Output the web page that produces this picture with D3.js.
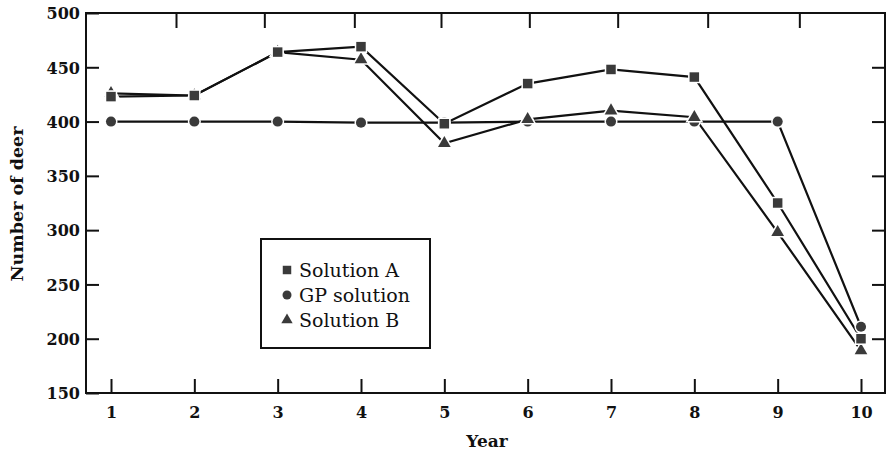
<!DOCTYPE html>
<html><head><meta charset="utf-8">
<script src="https://cdn.jsdelivr.net/npm/d3@7"></script>
<style>body{margin:0;background:#fff}svg{display:block}</style>
</head><body>
<svg id="c" width="887" height="452"></svg>
<script>
const years = [1,2,3,4,5,6,7,8,9,10];
const solutionA = [423,424,464,469,398,435,448,441,325,200];
const gpSolution = [400,400,400,399,399,400,400,400,400,211];
const solutionB = [426,424,464,457,380,402,410,404,298,189];
const yTicks = [150,200,250,300,350,400,450,500];
const topTicks = [1.78,2.84,3.92,4.96,6.02,7.08,8.16,9.26];
const seriesNames = ["Solution A","GP solution","Solution B"];

(function(){
const svg = d3.select("#c");
const L=86,R=885,T=13,B=393;
const x = d3.scaleLinear().domain([1,10]).range([111,861]);
const y = d3.scaleLinear().domain([150,500]).range([B,T]);
const ink="#111", mark="#3a3a3a", font="'DejaVu Serif', serif";

svg.append("rect").attr("x",L).attr("y",T).attr("width",R-L).attr("height",B-T)
  .attr("fill","none").attr("stroke",ink).attr("stroke-width",2);

const gBottom = svg.append("g").attr("transform",`translate(0,${B})`)
  .call(d3.axisBottom(x).tickValues(years).tickSize(-14).tickFormat(d3.format("d")));
const gLeft = svg.append("g").attr("transform",`translate(${L},0)`)
  .call(d3.axisLeft(y).tickValues(yTicks).tickSize(-13));
const gRight = svg.append("g").attr("transform",`translate(${R},0)`)
  .call(d3.axisRight(y).tickValues(yTicks.slice(1,-1)).tickSize(-13).tickFormat(""));
const gTop = svg.append("g").attr("transform",`translate(0,${T})`)
  .call(d3.axisTop(x).tickValues(topTicks).tickSize(-15).tickFormat(""));
[gBottom,gLeft,gRight,gTop].forEach(g=>{
  g.select(".domain").remove();
  g.selectAll(".tick line").attr("stroke",ink).attr("stroke-width",2);
  g.selectAll(".tick text").attr("fill",ink).attr("font-family",font)
    .attr("font-weight","bold").attr("font-size",16);
});
gLeft.selectAll(".tick text").attr("x",-6).attr("dy","0.36em");
gBottom.selectAll(".tick text").attr("y",25).attr("dy",0);

svg.append("text").attr("x",487).attr("y",447).attr("text-anchor","middle")
  .attr("font-family",font).attr("font-weight","bold").attr("font-size",17).attr("fill",ink).text("Year");
svg.append("text").attr("transform","translate(23,204) rotate(-90)").attr("text-anchor","middle")
  .attr("font-family",font).attr("font-weight","bold").attr("font-size",17.5).attr("fill",ink).text("Number of deer");

const data = [solutionA, gpSolution, solutionB];
const symbols = [d3.symbolSquare, d3.symbolCircle, d3.symbolTriangle];
const sizes = [90, 80, 70];
const line = d3.line().x((d,i)=>x(years[i])).y(d=>y(d));
data.forEach(s=>{
  svg.append("path").attr("d",line(s)).attr("fill","none").attr("stroke",ink).attr("stroke-width",2.2);
});
[1,2,0].forEach(k=>{
  svg.append("g").selectAll("path").data(data[k]).join("path")
    .attr("transform",(d,i)=>`translate(${x(years[i])},${y(d)})`)
    .attr("d",d3.symbol().type(symbols[k]).size(sizes[k]))
    .attr("fill",mark).attr("stroke","#fff").attr("stroke-width",3).attr("paint-order","stroke");
});

const lg = svg.append("g");
lg.append("rect").attr("x",261).attr("y",239).attr("width",169).attr("height",109)
  .attr("fill","#fff").attr("stroke",ink).attr("stroke-width",2);
seriesNames.forEach((n,k)=>{
  const yy = 270 + k*25;
  lg.append("path").attr("transform",`translate(287,${yy})`)
    .attr("d",d3.symbol().type(symbols[k]).size(sizes[k]*0.8)).attr("fill",mark);
  lg.append("text").attr("x",299).attr("y",yy).attr("dy","0.35em")
    .attr("font-family",font).attr("font-size",19).attr("fill",ink).text(n);
});
})();
</script>
</body></html>
